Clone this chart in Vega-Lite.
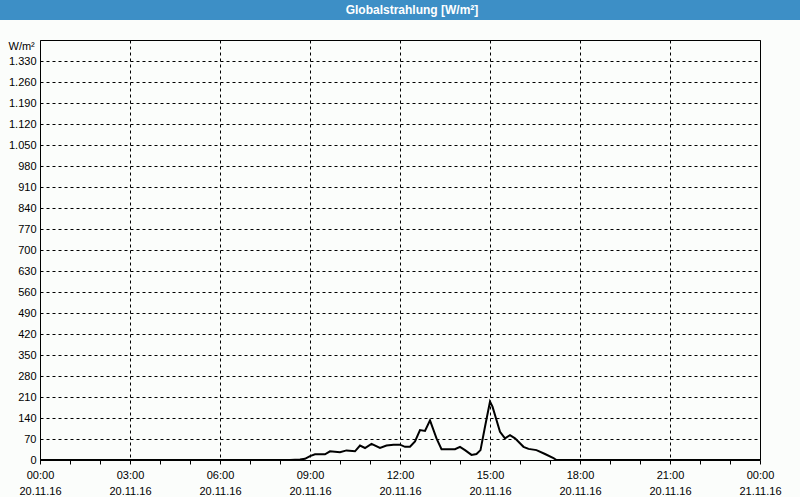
{
  "$schema": "https://vega.github.io/schema/vega-lite/v6.json",
  "background": "#fbfdfb",
  "padding": 0,
  "bounds": "flush",
  "center": true,
  "spacing": 20,
  "config": {"font": "Liberation Sans", "view": {"stroke": null}},
  "vconcat": [
    {
      "width": 800,
      "height": 20,
      "view": {"fill": "#3d8fc6", "stroke": null},
      "data": {"values": [{"title": "Globalstrahlung [W/m²]"}]},
      "mark": {"type": "text", "color": "white", "fontWeight": "bold", "fontSize": 12, "dx": 12, "font": "Liberation Sans"},
      "encoding": {"text": {"field": "title", "type": "nominal"}}
    },
    {
      "width": 720,
      "height": 420,
      "view": {"stroke": "black", "strokeWidth": 1},
      "data": {"values": [
        {"t": "2016-11-20T00:00:00Z", "v": 0},
        {"t": "2016-11-20T08:20:00Z", "v": 0},
        {"t": "2016-11-20T08:40:00Z", "v": 2},
        {"t": "2016-11-20T08:50:00Z", "v": 4},
        {"t": "2016-11-20T09:00:00Z", "v": 13},
        {"t": "2016-11-20T09:10:00Z", "v": 19},
        {"t": "2016-11-20T09:30:00Z", "v": 19},
        {"t": "2016-11-20T09:40:00Z", "v": 29},
        {"t": "2016-11-20T10:00:00Z", "v": 26},
        {"t": "2016-11-20T10:13:00Z", "v": 32},
        {"t": "2016-11-20T10:30:00Z", "v": 29},
        {"t": "2016-11-20T10:40:00Z", "v": 48},
        {"t": "2016-11-20T10:50:00Z", "v": 40},
        {"t": "2016-11-20T11:03:00Z", "v": 54},
        {"t": "2016-11-20T11:20:00Z", "v": 40},
        {"t": "2016-11-20T11:33:00Z", "v": 48},
        {"t": "2016-11-20T11:47:00Z", "v": 51},
        {"t": "2016-11-20T12:00:00Z", "v": 51},
        {"t": "2016-11-20T12:10:00Z", "v": 44},
        {"t": "2016-11-20T12:20:00Z", "v": 44},
        {"t": "2016-11-20T12:30:00Z", "v": 62},
        {"t": "2016-11-20T12:40:00Z", "v": 100},
        {"t": "2016-11-20T12:50:00Z", "v": 97},
        {"t": "2016-11-20T13:00:00Z", "v": 132},
        {"t": "2016-11-20T13:13:00Z", "v": 72},
        {"t": "2016-11-20T13:23:00Z", "v": 36},
        {"t": "2016-11-20T13:50:00Z", "v": 36},
        {"t": "2016-11-20T14:00:00Z", "v": 44},
        {"t": "2016-11-20T14:10:00Z", "v": 33},
        {"t": "2016-11-20T14:23:00Z", "v": 17},
        {"t": "2016-11-20T14:33:00Z", "v": 20},
        {"t": "2016-11-20T14:41:00Z", "v": 33},
        {"t": "2016-11-20T14:50:00Z", "v": 111},
        {"t": "2016-11-20T15:00:00Z", "v": 195},
        {"t": "2016-11-20T15:05:00Z", "v": 178},
        {"t": "2016-11-20T15:20:00Z", "v": 94},
        {"t": "2016-11-20T15:30:00Z", "v": 72},
        {"t": "2016-11-20T15:40:00Z", "v": 83},
        {"t": "2016-11-20T15:50:00Z", "v": 72},
        {"t": "2016-11-20T16:07:00Z", "v": 44},
        {"t": "2016-11-20T16:17:00Z", "v": 37},
        {"t": "2016-11-20T16:33:00Z", "v": 33},
        {"t": "2016-11-20T16:50:00Z", "v": 20},
        {"t": "2016-11-20T17:07:00Z", "v": 6},
        {"t": "2016-11-20T17:13:00Z", "v": 0},
        {"t": "2016-11-21T00:00:00Z", "v": 0}
      ]},
      "mark": {"type": "line", "color": "black", "strokeWidth": 2},
      "encoding": {
        "x": {
          "field": "t",
          "type": "temporal",
          "scale": {
            "type": "utc",
            "nice": false,
            "domain": [
              {"year": 2016, "month": 11, "date": 20, "hours": 0, "utc": true},
              {"year": 2016, "month": 11, "date": 21, "hours": 0, "utc": true}
            ]
          },
          "axis": {
            "title": null,
            "values": [
              {"year": 2016, "month": 11, "date": 20, "hours": 0, "utc": true},
              {"year": 2016, "month": 11, "date": 20, "hours": 1, "utc": true},
              {"year": 2016, "month": 11, "date": 20, "hours": 2, "utc": true},
              {"year": 2016, "month": 11, "date": 20, "hours": 3, "utc": true},
              {"year": 2016, "month": 11, "date": 20, "hours": 4, "utc": true},
              {"year": 2016, "month": 11, "date": 20, "hours": 5, "utc": true},
              {"year": 2016, "month": 11, "date": 20, "hours": 6, "utc": true},
              {"year": 2016, "month": 11, "date": 20, "hours": 7, "utc": true},
              {"year": 2016, "month": 11, "date": 20, "hours": 8, "utc": true},
              {"year": 2016, "month": 11, "date": 20, "hours": 9, "utc": true},
              {"year": 2016, "month": 11, "date": 20, "hours": 10, "utc": true},
              {"year": 2016, "month": 11, "date": 20, "hours": 11, "utc": true},
              {"year": 2016, "month": 11, "date": 20, "hours": 12, "utc": true},
              {"year": 2016, "month": 11, "date": 20, "hours": 13, "utc": true},
              {"year": 2016, "month": 11, "date": 20, "hours": 14, "utc": true},
              {"year": 2016, "month": 11, "date": 20, "hours": 15, "utc": true},
              {"year": 2016, "month": 11, "date": 20, "hours": 16, "utc": true},
              {"year": 2016, "month": 11, "date": 20, "hours": 17, "utc": true},
              {"year": 2016, "month": 11, "date": 20, "hours": 18, "utc": true},
              {"year": 2016, "month": 11, "date": 20, "hours": 19, "utc": true},
              {"year": 2016, "month": 11, "date": 20, "hours": 20, "utc": true},
              {"year": 2016, "month": 11, "date": 20, "hours": 21, "utc": true},
              {"year": 2016, "month": 11, "date": 20, "hours": 22, "utc": true},
              {"year": 2016, "month": 11, "date": 20, "hours": 23, "utc": true},
              {"year": 2016, "month": 11, "date": 21, "hours": 0, "utc": true}
            ],
            "labelExpr": "utchours(datum.value) % 3 == 0 ? [utcFormat(datum.value, '%H:%M'), utcFormat(datum.value, '%d.%m.%y')] : ''",
            "labelFontSize": 11,
            "labelColor": "black",
            "labelLineHeight": 16,
            "labelPadding": 5,
            "labelOverlap": false,
            "labelFlush": false,
            "tickSize": 4,
            "tickColor": "black",
            "domain": false,
            "grid": true,
            "gridColor": "black",
            "gridDash": [3, 3],
            "gridOpacity": {"condition": {"test": "utchours(datum.value) % 3 == 0", "value": 1}, "value": 0}
          }
        },
        "y": {
          "field": "v",
          "type": "quantitative",
          "scale": {"domain": [0, 1400], "nice": false},
          "axis": {
            "title": "W/m²",
            "titleAngle": 0,
            "titleAlign": "left",
            "titleBaseline": "middle",
            "titleX": -32,
            "titleY": 6,
            "titleFontSize": 11,
            "titleFontWeight": "normal",
            "titleColor": "black",
            "values": [0, 70, 140, 210, 280, 350, 420, 490, 560, 630, 700, 770, 840, 910, 980, 1050, 1120, 1190, 1260, 1330],
            "labelExpr": "replace(format(datum.value, ','), ',', '.')",
            "labelFontSize": 11,
            "labelColor": "black",
            "labelPadding": 4,
            "ticks": false,
            "domain": false,
            "grid": true,
            "gridColor": "black",
            "gridDash": [3, 3],
            "gridOpacity": 1
          }
        }
      }
    }
  ]
}
